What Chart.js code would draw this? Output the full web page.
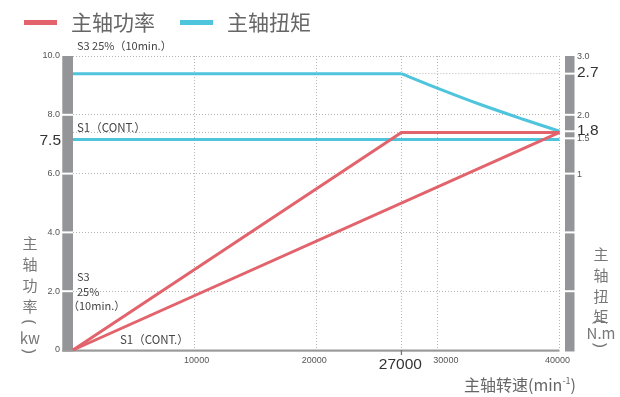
<!DOCTYPE html>
<html>
<head>
<meta charset="utf-8">
<script src="https://cdn.jsdelivr.net/npm/chart.js@4.4.0/dist/chart.umd.min.js"></script>
<style>
  body { margin: 0; background: #fff; }
  #wrap { position: relative; width: 620px; height: 397px; font-family: "Noto Sans CJK SC", sans-serif; color: #555; overflow: hidden; }
  #chart { position: absolute; left: 0; top: 0; }
  .t { position: absolute; white-space: nowrap; line-height: 1; transform: translateY(-50%); }
  .c { transform: translate(-50%, -50%); }
  .r { transform: translate(-50%, -50%) rotate(90deg); font-family: "Noto Sans", sans-serif; }
  .bar { position: absolute; height: 5.5px; width: 33px; }
  sup { font-size: 9px; vertical-align: 7px; line-height: 0; }
</style>
</head>
<body>
<div id="wrap">
  <canvas id="chart" width="620" height="397"></canvas>
</div>
<script>
// 转速刻度 / 功率刻度 / 扭矩刻度
const speedTicks = [10000, 20000, 27000, 30000, 40000];
const speedLabels = ['10000', '20000', '27000', '30000', '40000'];
const powerTicks = [0, 2, 4, 6, 8, 10];
const powerLabels = ['0', '2.0', '4.0', '6.0', '8.0', '10.0'];
const torqueTicks = [3, 2.7, 2, 1.72, 1.6, 1, 0, -1];
const torqueLabels = ['3.0', '2.7', '2.0', '1.8', '1.5', '1', '', ''];
const bigLabels = ['7.5', '2.7', '1.8', '27000'];

// 主轴功率 (kW)
const powerS3Speed = [0, 27000, 40000];
const powerS3 = [0, 7.4, 7.4];
const powerS1Speed = [0, 40000];
const powerS1 = [0, 7.4];

// 主轴扭矩 (N.m)
const torqueS3FlatSpeed = [0, 27000];
const torqueS3Flat = [2.7, 2.7];
const torqueS3CurveSpeed = [27000, 30000, 33500, 37000, 40000];
const torqueS3Curve = [2.7, 2.45, 2.175, 1.925, 1.72];
const torqueS1Speed = [0, 40000];
const torqueS1 = [1.58, 1.58];

const RED = '#e2636b';
const CYAN = '#4fc4dd';
const GRAY = '#939598';

const zip = (xs, ys) => xs.map((x, i) => ({ x: x, y: ys[i] }));

const wrap = document.getElementById('wrap');
function addText(html, x, y, size, color, cls) {
    const el = document.createElement('div');
    el.className = 't' + (cls ? ' ' + cls : '');
    el.style.left = x + 'px';
    el.style.top = y + 'px';
    el.style.fontSize = size + 'px';
    el.style.color = color;
    el.innerHTML = html;
    wrap.appendChild(el);
    return el;
}
function addBar(x, y, color) {
    const el = document.createElement('div');
    el.className = 'bar';
    el.style.left = x + 'px';
    el.style.top = y + 'px';
    el.style.background = color;
    wrap.appendChild(el);
}

// 图例
addBar(24, 19.5, RED);
addText('主轴功率', 71, 21, 21, '#666');
addBar(180, 19.5, CYAN);
addText('主轴扭矩', 227, 21, 21, '#666');

// 注释
addText('S3 25%（10min.）', 77, 45, 11, '#444');
addText('S1（CONT.）', 77, 127.5, 11.5, '#444');
addText('S3', 77, 276, 11, '#444');
addText('25%', 77, 291, 11, '#444');
addText('（10min.）', 68, 305, 11, '#444');
addText('S1（CONT.）', 120, 340, 11.5, '#444');

// 轴标题 (竖排)
function verticalTitle(parts, x, ys) {
    parts.forEach((ch, i) => {
        const isParen = ch === '(' || ch === ')';
        addText(ch, x, ys[i], isParen ? 17 : 15, '#777', isParen ? 'r' : 'c');
    });
}
verticalTitle(['主', '轴', '功', '率', '(', 'kw', ')'], 30, [242, 263, 284, 305, 322, 337, 351]);
verticalTitle(['主', '轴', '扭', '矩', '(', 'N.m', ')'], 601, [253, 274, 295, 315, 322, 332, 345]);
const xt = addText('主轴转速(min<sup>-1</sup>)', 0, 384, 16, '#666');
xt.style.left = (576 - xt.offsetWidth) + 'px';

const axisDecor = {
    id: 'axisDecor',
    beforeDatasetsDraw(chart) {
        const ctx = chart.ctx;
        const x = chart.scales.x, y = chart.scales.y, y2 = chart.scales.y2;
        const top = y.getPixelForValue(10), bottom = y.getPixelForValue(0);
        const left = x.getPixelForValue(0), right = x.getPixelForValue(40000);
        ctx.save();
        ctx.fillStyle = GRAY;
        ctx.fillRect(left - 10.7, top, 10.7, bottom - top + 1.5);
        ctx.fillRect(right + 5.5, top, 9.5, bottom - top + 1.5);
        // 底部轴线
        ctx.fillStyle = '#9a9a9a';
        ctx.fillRect(left - 10.7, bottom - 0.5, right - left + 10.7, 2.2);
        // 27000 刻度
        ctx.fillStyle = '#777';
        ctx.fillRect(x.getPixelForValue(27000) - 0.6, bottom, 1.3, 5);
        // 刻度白线
        ctx.fillStyle = '#fff';
        powerTicks.forEach(v => {
            if (v === 0 || v === 10) return;
            ctx.fillRect(left - 12, y.getPixelForValue(v) - 1, 12, 2);
        });
        torqueTicks.forEach(v => {
            if (v === 3) return;
            ctx.fillRect(right + 4, y2.getPixelForValue(v) - 1, 12, 2);
        });
        ctx.restore();
    },
    afterDraw(chart) {
        const ctx = chart.ctx;
        const x = chart.scales.x, y = chart.scales.y, y2 = chart.scales.y2;
        const bottom = y.getPixelForValue(0);
        const left = x.getPixelForValue(0), right = x.getPixelForValue(40000);
        const small = '9px "Liberation Sans", Arial, sans-serif';
        const big = '15.5px "Liberation Sans", Arial, sans-serif';
        ctx.save();
        ctx.textBaseline = 'middle';
        ctx.textAlign = 'right';
        powerTicks.forEach((v, i) => {
            ctx.font = small;
            ctx.fillStyle = '#555';
            ctx.fillText(powerLabels[i], left - 13, y.getPixelForValue(v));
        });
        ctx.font = big;
        ctx.fillStyle = '#333';
        ctx.fillText(bigLabels[0], left - 12, y2.getPixelForValue(torqueS1[0]) + 1);
        ctx.textAlign = 'left';
        torqueTicks.forEach((v, i) => {
            if (!torqueLabels[i]) return;
            const isBig = bigLabels.includes(torqueLabels[i]);
            ctx.font = isBig ? big : small;
            ctx.fillStyle = isBig ? '#333' : '#555';
            ctx.fillText(torqueLabels[i], right + 17.5, y2.getPixelForValue(v) + (isBig ? -1 : 0.5));
        });
        ctx.textAlign = 'center';
        const nudge = { 10000: 2, 20000: -2, 27000: -1, 30000: 8, 40000: -2 };
        speedTicks.forEach((v, i) => {
            const isBig = bigLabels.includes(speedLabels[i]);
            ctx.font = isBig ? big : small;
            ctx.fillStyle = isBig ? '#333' : '#555';
            ctx.fillText(speedLabels[i], x.getPixelForValue(v) + nudge[v], bottom + (isBig ? 15 : 11));
        });
        ctx.restore();
    }
};

const dotted = { borderColor: '#b5b5b5', borderWidth: 1, borderDash: [1, 2], pointRadius: 0, fill: false, clip: false };
const solid = { borderWidth: 3, pointRadius: 0, fill: false, clip: false, borderCapStyle: 'butt' };

new Chart(document.getElementById('chart'), {
    type: 'line',
    data: {
        datasets: [
            Object.assign({ data: zip([0, 27000], [powerS3[1], powerS3[1]]), yAxisID: 'y', order: 9 }, dotted),
            Object.assign({ data: zip([27000, 40000], [torqueS3Flat[0], torqueS3Flat[0]]), yAxisID: 'y2', order: 9 }, dotted),
            Object.assign({ label: '主轴扭矩', data: zip(torqueS1Speed, torqueS1), yAxisID: 'y2', borderColor: CYAN, order: 3 }, solid),
            Object.assign({ label: '主轴扭矩', data: zip(torqueS3FlatSpeed, torqueS3Flat), yAxisID: 'y2', borderColor: CYAN, order: 3 }, solid),
            Object.assign({ label: '主轴扭矩', data: zip(torqueS3CurveSpeed, torqueS3Curve), yAxisID: 'y2', borderColor: CYAN, cubicInterpolationMode: 'monotone', order: 3 }, solid),
            Object.assign({ label: '主轴功率', data: zip(powerS1Speed, powerS1), yAxisID: 'y', borderColor: RED, order: 1 }, solid),
            Object.assign({ label: '主轴功率', data: zip(powerS3Speed, powerS3), yAxisID: 'y', borderColor: RED, order: 1, borderJoinStyle: 'miter' }, solid)
        ]
    },
    options: {
        responsive: false,
        animation: false,
        layout: { padding: { left: 73, right: 60.5, top: 56, bottom: 47 } },
        plugins: { legend: { display: false }, tooltip: { enabled: false } },
        scales: {
            x: {
                type: 'linear', min: 0, max: 40000,
                afterBuildTicks: s => { s.ticks = speedTicks.map(v => ({ value: v })); },
                afterFit: s => { s.height = 0; },
                ticks: { display: false },
                grid: { color: '#b5b5b5', lineWidth: 1, drawTicks: false },
                border: { display: false, dash: [1, 2] }
            },
            y: {
                min: 0, max: 10,
                afterBuildTicks: s => { s.ticks = powerTicks.filter(v => v > 0).map(v => ({ value: v })); },
                afterFit: s => { s.width = 0; },
                ticks: { display: false },
                grid: { color: '#b5b5b5', lineWidth: 1, drawTicks: false },
                border: { display: false, dash: [1, 2] }
            },
            y2: {
                position: 'right', min: -2, max: 3,
                afterFit: s => { s.width = 0; },
                ticks: { display: false },
                grid: { display: false, drawTicks: false },
                border: { display: false }
            }
        }
    },
    plugins: [axisDecor]
});
</script>
</body>
</html>
